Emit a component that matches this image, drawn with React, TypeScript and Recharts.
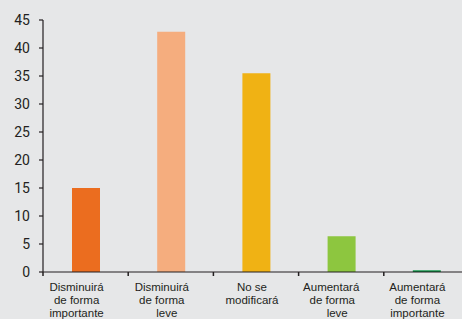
import { BarChart, Bar, XAxis, YAxis, Cell } from 'recharts';

// Expected change (%) by answer category
const categories = [
  ['Disminuirá', 'de forma', 'importante'],
  ['Disminuirá', 'de forma', 'leve'],
  ['No se', 'modificará'],
  ['Aumentará', 'de forma', 'leve'],
  ['Aumentará', 'de forma', 'importante'],
];
const values = [15, 42.9, 35.5, 6.4, 0.3];
const colors = ['#EB6D1F', '#F5AD7E', '#F0B214', '#8DC63F', '#00923F'];
const yTicks = [0, 5, 10, 15, 20, 25, 30, 35, 40, 45];

const data = categories.map((lines, i) => ({ key: lines.join(' '), lines, value: values[i] }));

const AXIS = '#231f20';
const FONT = 'Roboto, "Liberation Sans", sans-serif';
const LABEL_FONT = '"Liberation Sans", Arial, sans-serif';
const CHART_W = 470;
const PLOT_LEFT = 43;
const BAND = (CHART_W - PLOT_LEFT - 1) / categories.length;

// the source labels sit a bit left of their bars
const labelDx = [
  [-9, -9, -9],
  [-9, -9, -4],
  [-4, -4],
  [-10, -9, -4],
  [-9, -9, -9],
];

const CategoryTick = ({ x, y, payload, index }: any) => {
  const lines: string[] = data[index]?.lines ?? [String(payload.value)];
  const left = x - BAND / 2;
  return (
    <g>
      <line x1={left} y1={y} x2={left} y2={y + 4} stroke={AXIS} strokeWidth={1.5} />
      <text textAnchor="middle" fontSize={11.5} fontFamily={LABEL_FONT} fill={AXIS}>
        {lines.map((line, i) => (
          <tspan key={i} x={x + (labelDx[index]?.[i] ?? 0)} y={y + 19 + i * 13}>
            {line}
          </tspan>
        ))}
      </text>
    </g>
  );
};

export default function App() {
  return (
    <div
      style={{
        position: 'fixed',
        top: 0,
        left: 0,
        width: 462,
        height: 319,
        overflow: 'hidden',
        background: '#e6e7e8',
      }}
    >
      <BarChart
        width={CHART_W}
        height={319}
        data={data}
        margin={{ top: 20, right: 1, bottom: 0, left: 0 }}
      >
        <XAxis
          dataKey="key"
          height={47}
          interval={0}
          tickLine={false}
          tickSize={0}
          tickMargin={0}
          axisLine={{ stroke: AXIS, strokeWidth: 1.2 }}
          tick={<CategoryTick />}
        />
        <YAxis
          width={PLOT_LEFT}
          domain={[0, 45]}
          ticks={yTicks}
          interval={0}
          tickSize={4}
          tickMargin={9}
          axisLine={{ stroke: AXIS, strokeWidth: 1.2 }}
          tickLine={{ stroke: AXIS, strokeWidth: 1.2 }}
          tick={{ fontSize: 14, fontFamily: FONT, fill: AXIS }}
        />
        <Bar dataKey="value" barSize={28} isAnimationActive={false}>
          {data.map((d, i) => (
            <Cell key={d.key} fill={colors[i]} />
          ))}
        </Bar>
      </BarChart>
    </div>
  );
}
